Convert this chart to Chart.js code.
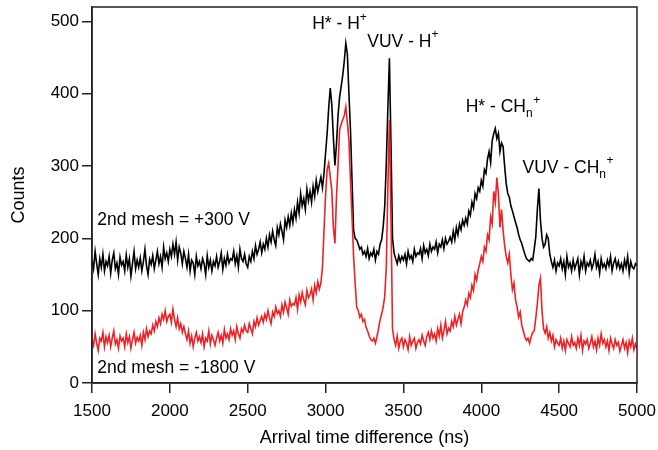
<!DOCTYPE html>
<html>
<head>
<meta charset="utf-8">
<script src="https://cdn.jsdelivr.net/npm/chart.js@4"></script>
<style>
  html, body { margin: 0; padding: 0; background: #fff; }
</style>
</head>
<body>
<canvas id="chart" width="658" height="450"></canvas>
<script>
// time axis: one bin every 10 ns starting at 1500 ns
const t0 = 1500;
const dt = 10;

const yTicks = [0, 100, 200, 300, 400, 500];

// 2nd mesh = +300 V
const countsPlus300 = [
  170,158,182,165,150,172,160,178,155,168,
  162,175,152,170,180,158,166,150,174,163,
  168,155,177,160,172,148,165,182,158,170,
  160,173,155,168,185,162,150,171,164,176,
  158,170,182,165,175,160,188,172,180,168,
  185,175,192,178,195,170,188,180,165,182,
  172,160,178,155,170,166,150,175,162,168,
  158,172,165,150,176,160,170,155,168,162,
  175,160,168,180,157,172,163,178,166,172,
  170,182,165,176,160,185,172,168,178,165,
  160,175,168,182,172,190,178,185,195,180,
  192,185,200,188,205,195,210,198,190,215,
  205,220,210,198,225,215,230,218,235,222,
  240,228,250,235,262,245,255,240,268,252,
  265,250,272,258,280,265,275,285,270,290,
  318,345,380,408,385,340,301,330,370,395,
  410,425,445,470,455,400,350,280,211,200,
  198,192,185,188,178,182,175,186,172,180,
  176,185,170,182,178,192,198,216,245,304,
  380,449,330,200,180,172,165,176,168,175,
  170,178,165,182,172,176,168,185,175,180,
  178,186,172,190,180,185,176,192,182,188,
  185,195,180,192,188,198,186,200,192,196,
  202,195,210,198,215,205,220,212,225,218,
  228,220,238,232,250,242,262,255,270,265,
  280,272,295,290,310,320,305,335,345,352,
  338,345,320,332,327,300,276,262,257,245,
  238,230,222,215,205,198,193,185,178,172,
  170,168,172,170,185,202,240,269,225,200,
  188,192,205,200,178,168,160,170,155,166,
  162,172,158,168,150,175,160,166,155,170,
  158,165,172,150,168,160,175,155,166,162,
  170,158,165,178,160,168,152,172,160,165,
  158,170,162,175,155,166,172,160,168,158,
  165,155,170,160,175,152,168,160,158,165,
  162
];

// 2nd mesh = -1800 V
const countsMinus1800 = [
  60,52,68,55,45,62,58,70,50,64,
  56,66,50,62,72,54,60,48,65,58,
  62,50,68,56,64,48,60,70,55,63,
  58,66,52,70,60,75,64,72,68,80,
  72,85,78,90,82,95,88,100,85,92,
  95,84,102,88,78,90,75,82,70,78,
  68,60,72,55,65,50,62,70,58,64,
  56,68,50,62,58,72,54,66,60,52,
  62,70,58,66,55,74,62,68,60,75,
  66,72,60,78,68,62,75,70,80,72,
  70,82,75,68,85,78,90,80,86,92,
  84,95,88,100,90,82,98,92,105,96,
  100,92,108,98,112,104,95,115,106,110,
  108,118,102,122,112,125,115,108,128,118,
  122,130,115,135,125,140,130,138,160,211,
  260,295,304,285,267,215,193,257,300,350,
  358,364,370,382,360,336,280,230,175,138,
  105,100,91,95,85,88,77,72,65,60,
  58,62,55,64,75,87,95,105,120,160,
  270,364,230,75,60,52,65,48,58,62,
  50,60,55,46,64,52,58,62,48,56,
  60,54,66,58,52,64,70,60,72,62,
  68,58,75,65,80,62,72,85,68,76,
  72,85,78,92,80,88,95,82,98,105,
  115,108,124,118,135,128,150,142,156,165,
  175,168,188,182,205,198,230,220,265,250,
  284,262,215,240,211,190,175,166,178,150,
  129,138,115,105,91,98,80,72,64,59,
  62,55,64,70,72,90,110,135,145,100,
  75,69,78,62,70,58,66,50,60,55,
  52,62,48,58,45,60,55,50,64,52,
  56,48,62,52,66,45,58,54,60,48,
  55,64,50,58,46,62,52,68,55,60,
  50,58,45,62,54,48,60,52,56,44,
  52,60,48,56,42,58,50,62,46,54,
  48
];

const FONT = '"Liberation Sans", Arial, Helvetica, sans-serif';

// peak labels, anchored in data units (left edge, baseline)
const notes = [
  { x: 2914, y: 489, parts: [['H* - H', 0], ['+', -8]] },
  { x: 3268, y: 465, parts: [['VUV - H', 0], ['+', -9]] },
  { x: 3900, y: 375, parts: [['H* - CH', 0], ['n', 5], ['+', -8]] },
  { x: 4265, y: 290, parts: [['VUV - CH', 0], ['n', 5], ['+', -9]] },
  { x: 1534, y: 219, parts: [['2nd mesh = +300 V', 0]] },
  { x: 1534, y: 14, parts: [['2nd mesh = -1800 V', 0]] },
];

const toPoints = (arr) => arr.map((v, i) => ({ x: t0 + i * dt, y: v }));

const frame = {
  id: 'frame',
  afterDatasetsDraw(chart) {
    const { ctx, chartArea: a } = chart;
    ctx.save();
    ctx.strokeStyle = '#222';
    ctx.lineWidth = 1.5;
    ctx.strokeRect(a.left, a.top, a.right - a.left, a.bottom - a.top);
    ctx.restore();
  },
};

const labels = {
  id: 'labels',
  afterDraw(chart) {
    const { ctx } = chart;
    const xs = chart.scales.x, ys = chart.scales.y;
    ctx.save();
    ctx.fillStyle = '#000';
    ctx.textBaseline = 'alphabetic';
    ctx.textAlign = 'left';
    notes.forEach((n) => {
      let px = xs.getPixelForValue(n.x);
      const py = ys.getPixelForValue(n.y);
      n.parts.forEach(([txt, dy]) => {
        ctx.font = (dy === 0 ? '17.5px ' : '12px ') + FONT;
        ctx.fillText(txt, px, py + dy);
        px += ctx.measureText(txt).width + (dy === 0 ? 0 : 0.5);
      });
    });
    ctx.restore();
  },
};

new Chart(document.getElementById('chart'), {
  type: 'line',
  plugins: [frame, labels],
  data: {
    datasets: [
      {
        label: '2nd mesh = -1800 V',
        data: toPoints(countsMinus1800),
        borderColor: '#ec2227',
      },
      {
        label: '2nd mesh = +300 V',
        data: toPoints(countsPlus300),
        borderColor: '#000',
      },
    ],
  },
  options: {
    responsive: false,
    animation: false,
    devicePixelRatio: 1,
    layout: { padding: { top: 7, right: 21, left: 0, bottom: 0 } },
    elements: {
      point: { radius: 0 },
      line: { borderWidth: 1.6, tension: 0 },
    },
    plugins: { legend: { display: false }, tooltip: { enabled: false } },
    scales: {
      x: {
        type: 'linear',
        min: 1500,
        max: 5000,
        ticks: {
          stepSize: 500,
          color: '#000',
          font: { family: FONT, size: 17 },
          padding: 8,
          maxRotation: 0,
          callback: (v) => String(v),
        },
        grid: { drawOnChartArea: false, drawTicks: true, tickLength: 10, color: '#222', lineWidth: 1.5 },
        border: { display: true, color: '#222', width: 1.5 },
        title: {
          display: true,
          text: 'Arrival time difference (ns)',
          color: '#000',
          font: { family: FONT, size: 18 },
          padding: { top: 0, bottom: 1 },
        },
        afterFit: (s) => { s.height = 67; s.paddingLeft = 0; s.paddingRight = 0; },
      },
      y: {
        type: 'linear',
        min: 0,
        max: 520,
        afterBuildTicks: (s) => { s.ticks = yTicks.map((v) => ({ value: v })); },
        ticks: {
          color: '#000',
          font: { family: FONT, size: 17 },
          padding: 3,
          callback: (v) => String(v),
        },
        grid: { drawOnChartArea: false, drawTicks: true, tickLength: 10, color: '#222', lineWidth: 1.5 },
        border: { display: true, color: '#222', width: 1.5 },
        title: {
          display: true,
          text: 'Counts',
          color: '#000',
          font: { family: FONT, size: 18 },
          padding: { top: 8, bottom: 0 },
        },
        afterFit: (s) => { s.width = 92; s.paddingTop = 0; s.paddingBottom = 0; },
      },
    },
  },
});
</script>
</body>
</html>
